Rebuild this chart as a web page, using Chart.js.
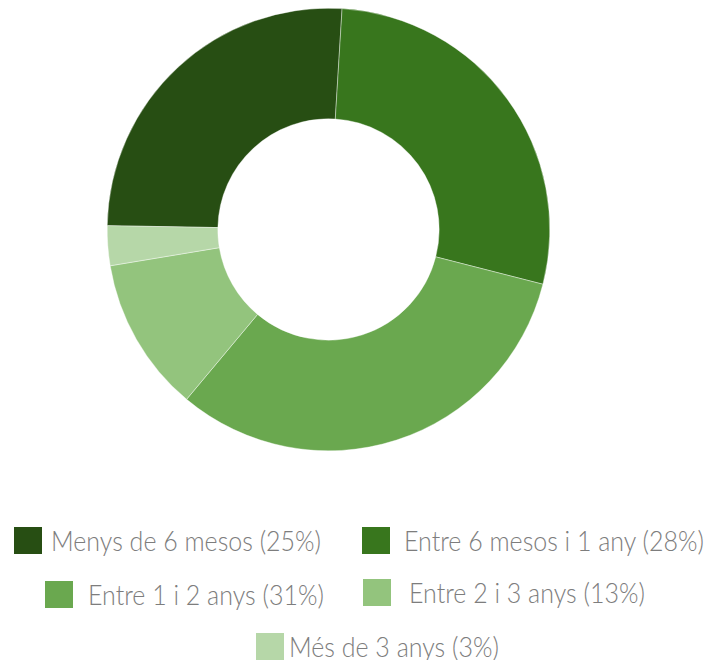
<!DOCTYPE html>
<html>
<head>
<meta charset="utf-8">
<script src="https://cdn.jsdelivr.net/npm/chart.js@4"></script>
<style>
  html, body { margin: 0; padding: 0; background: #fff; }
  body { width: 717px; height: 660px; position: relative; overflow: hidden; }
  #grafic { position: absolute; left: 107px; top: 8px; width: 443px; height: 443px; }
  .llegenda { position: absolute; display: flex; align-items: center; white-space: nowrap;
    font-family: 'Lato', 'Roboto', sans-serif; font-weight: 300; font-size: 25px; color: #7d7d7d; }
  .llegenda .caixa { width: 28px; height: 27px; flex: none; }
  .llegenda .txt { display: inline-block; transform: scaleY(1.1); transform-origin: left center; }
</style>
</head>
<body>
<div id="grafic"><canvas id="grafico1"></canvas></div>

<script>
// categories i valors (percentatge de l'angle llegit del dibuix)
const categories = ['Menys de 6 mesos', 'Entre 6 mesos i 1 any', 'Entre 1 i 2 anys', 'Entre 2 i 3 anys', 'Més de 3 anys'];
const etiquetesPct = ['25%', '28%', '31%', '13%', '3%'];
const valors = [25.7, 28.0, 32.1, 11.3, 2.9];
const colors = ['#274e13', '#38761d', '#6aa84f', '#93c47d', '#b6d7a8'];

// posicions de la llegenda (caixa esquerra, caixa dalt, espai fins al text)
const posLlegenda = [
    [14, 525, 9],
    [362, 525, 14],
    [45, 579, 15],
    [363, 577, 18],
    [256, 631, 5]
];

document.addEventListener('DOMContentLoaded', function() {
    const ctx = document.getElementById('grafico1').getContext('2d');

    new Chart(ctx, {
        type: 'doughnut',
        data: {
            labels: categories,
            datasets: [{
                data: valors,
                backgroundColor: colors,
                borderColor: '#ffffff',
                borderWidth: 0.4
            }]
        },
        options: {
            responsive: true,
            maintainAspectRatio: false,
            animation: false,
            rotation: 271,
            cutout: '50%',
            layout: { padding: 0 },
            plugins: {
                legend: { display: false },
                tooltip: { enabled: false }
            }
        }
    });

    // llegenda feta a mà
    categories.forEach((nom, i) => {
        const [x, y, gap] = posLlegenda[i];
        const item = document.createElement('div');
        item.className = 'llegenda';
        item.style.left = x + 'px';
        item.style.top = y + 'px';
        const caixa = document.createElement('span');
        caixa.className = 'caixa';
        caixa.style.background = colors[i];
        const text = document.createElement('span');
        text.className = 'txt';
        text.textContent = nom + ' (' + etiquetesPct[i] + ')';
        text.style.marginLeft = gap + 'px';
        item.appendChild(caixa);
        item.appendChild(text);
        document.body.appendChild(item);
    });
});
</script>
</body>
</html>
